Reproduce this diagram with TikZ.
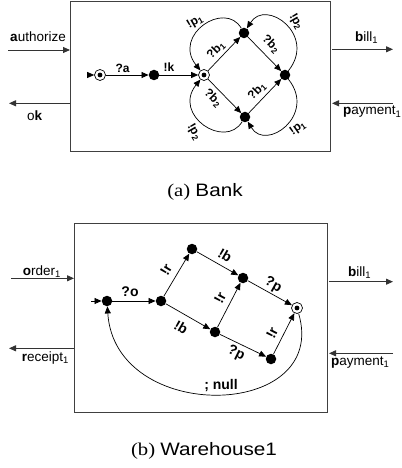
\documentclass[tikz,border=0pt]{standalone}
\usepackage{fontspec}
\setmainfont{Liberation Serif}
\setsansfont{Liberation Sans}
\newfontfamily\capserif[FakeStretch=1.15]{Liberation Serif}
\newfontfamily\capsans[FakeStretch=1.15]{Liberation Sans}
\usetikzlibrary{arrows.meta}
\newcommand\sbs[1]{\textsubscript{#1}}
\tikzset{
  st/.style={circle, fill=black, inner sep=0pt, minimum size=10.5bp},
  fst/.style={circle, draw=black, fill=white, line width=0.7bp, inner sep=0pt, minimum size=11bp,
    path picture={\fill[black] (path picture bounding box.center) circle (2.4bp);}},
  arr/.style={-{Triangle[length=7bp,width=6bp]}, line width=0.7bp},
  lbA/.style={font=\sffamily\bfseries\fontsize{12bp}{12bp}\selectfont, inner sep=0pt},
  lbB/.style={font=\sffamily\bfseries\fontsize{14bp}{14bp}\selectfont, inner sep=0pt},
  iolab/.style={font=\sffamily\fontsize{13.5bp}{14bp}\selectfont, inner sep=0pt, anchor=base west},
  compbox/.style={draw=black!75, line width=1bp},
  ioarr/.style={draw=black!80, line width=0.9bp, -{Triangle[length=7bp,width=6bp]}},
  caplab/.style={font=\fontsize{18bp}{20bp}\selectfont, inner sep=0pt, anchor=base},
}
\begin{document}
\begin{tikzpicture}[x=1bp,y=1bp]
\useasboundingbox (0,0) rectangle (401,-468);

% ================= (a) Bank =================
\draw[compbox] (70,-2) rectangle (330,-152);

\coordinate (auA) at (8,-50);   \coordinate (auB) at (70,-50);
\coordinate (okA) at (70,-103.3); \coordinate (okB) at (9,-103.3);
\coordinate (biA) at (332,-49.3); \coordinate (biB) at (393,-49.3);
\coordinate (paA) at (393,-103.3); \coordinate (paB) at (332,-103.3);
\draw[ioarr] (auA) -- (auB);
\draw[ioarr] (okA) -- (okB);
\draw[ioarr] (biA) -- (biB);
\draw[ioarr] (paA) -- (paB);
\node[iolab] (tau) at (10,-41.7) {\textbf{a}uthorize};
\node[iolab] (tok) at (27,-120.7) {o\textbf{k}};
\node[iolab] (tbi) at (355,-41.7) {\textbf{b}ill\sbs{1}};
\node[iolab] (tpa) at (343,-115) {\textbf{p}ayment\sbs{1}};

\node[fst] (s0) at (100,-75) {};
\node[st]  (s1) at (154,-75) {};
\node[fst] (s2) at (204,-75) {};
\node[st]  (sT) at (244,-33) {};
\node[st]  (sR) at (285,-75) {};
\node[st]  (sB) at (245,-117) {};
\coordinate (st0) at (87,-75);

\draw[arr] (st0) -- (s0);
\draw[arr] (s0) -- (s1);
\draw[arr] (s1) -- (s2);
\draw[arr] (s2) -- (sT);
\draw[arr] (sT) -- (sR);
\draw[arr] (s2) -- (sB);
\draw[arr] (sB) -- (sR);
\draw[arr] (sT) .. controls (225,0) and (172,-35) .. (s2);
\draw[arr] (sB) .. controls (225,-150) and (172,-115) .. (s2);
\draw[arr] (sR) .. controls (317,-35) and (266,2) .. (sT);
\draw[arr] (sR) .. controls (317,-115) and (266,-152) .. (sB);

\node[lbA] (la) at (122.5,-68) {?a};
\node[lbA] (lk) at (169,-67.5) {!k};
\node[lbA, rotate=45]  (lb1) at (216,-50) {?b\sbs{1}};
\node[lbA, rotate=-45] (lb2) at (271,-44) {?b\sbs{2}};
\node[lbA, rotate=-45] (lb3) at (213,-98) {?b\sbs{2}};
\node[lbA, rotate=45]  (lb4) at (257,-91) {?b\sbs{1}};
\node[lbA, rotate=30]  (lp1) at (195,-22) {!p\sbs{1}};
\node[lbA, rotate=-60] (lp2) at (296,-22) {!p\sbs{2}};
\node[lbA, rotate=-60] (lp3) at (194,-132) {!p\sbs{2}};
\node[lbA, rotate=35]  (lp4) at (298,-128) {!p\sbs{1}};

\node[caplab] (capA) at (205,-196.7) {\capserif (a) \capsans Bank};

% ================= (b) Warehouse1 =================
\draw[compbox] (74,-223) rectangle (327,-412);

\coordinate (orA) at (11,-278.3); \coordinate (orB) at (74,-278.3);
\coordinate (reA) at (74,-348.3); \coordinate (reB) at (9,-348.3);
\coordinate (wbA) at (329,-281.7); \coordinate (wbB) at (393,-281.7);
\coordinate (wpA) at (393,-353.3); \coordinate (wpB) at (329,-353.3);
\draw[ioarr] (orA) -- (orB);
\draw[ioarr] (reA) -- (reB);
\draw[ioarr] (wbA) -- (wbB);
\draw[ioarr] (wpA) -- (wpB);
\node[iolab] (tor) at (22.7,-275) {\textbf{o}rder\sbs{1}};
\node[iolab] (tre) at (21.7,-361.7) {\textbf{r}eceipt\sbs{1}};
\node[iolab] (twb) at (348,-276.7) {\textbf{b}ill\sbs{1}};
\node[iolab] (twp) at (331,-365) {\textbf{p}ayment\sbs{1}};

\node[st]  (w0) at (107,-301) {};
\node[st]  (w1) at (161,-301) {};
\node[st]  (w2) at (192,-249) {};
\node[st]  (w3) at (243,-278) {};
\node[st]  (w4) at (215,-332) {};
\node[fst] (w5) at (297,-308) {};
\node[st]  (w6) at (271,-359) {};
\coordinate (wst) at (91,-301);

\draw[arr] (wst) -- (w0);
\draw[arr] (w0) -- (w1);
\draw[arr] (w1) -- (w2);
\draw[arr] (w1) -- (w4);
\draw[arr] (w2) -- (w3);
\draw[arr] (w4) -- (w3);
\draw[arr] (w3) -- (w5);
\draw[arr] (w4) -- (w6);
\draw[arr] (w6) -- (w5);
\draw[arr] (w5) .. controls (330,-420) and (115,-425) .. (w0);

\node[lbB] (lo) at (130,-292) {?o};
\node[lbB, rotate=59]  (lr1) at (166,-270) {!r};
\node[lbB, rotate=-30] (lbb1) at (225,-255) {!b};
\node[lbB, rotate=-30] (lbb2) at (181,-327) {!b};
\node[lbB, rotate=62]  (lr2) at (220,-298) {!r};
\node[lbB, rotate=-29] (lpp1) at (273,-285) {?p};
\node[lbB, rotate=-26] (lpp2) at (236,-353) {?p};
\node[lbB, rotate=63]  (lr3) at (272,-333) {!r};
\node[lbB] (lnull) at (221,-386) {; null};

\node[caplab] (capB) at (204,-455.7) {\capserif (b) \capsans Warehouse1};
\end{tikzpicture}
\end{document}
